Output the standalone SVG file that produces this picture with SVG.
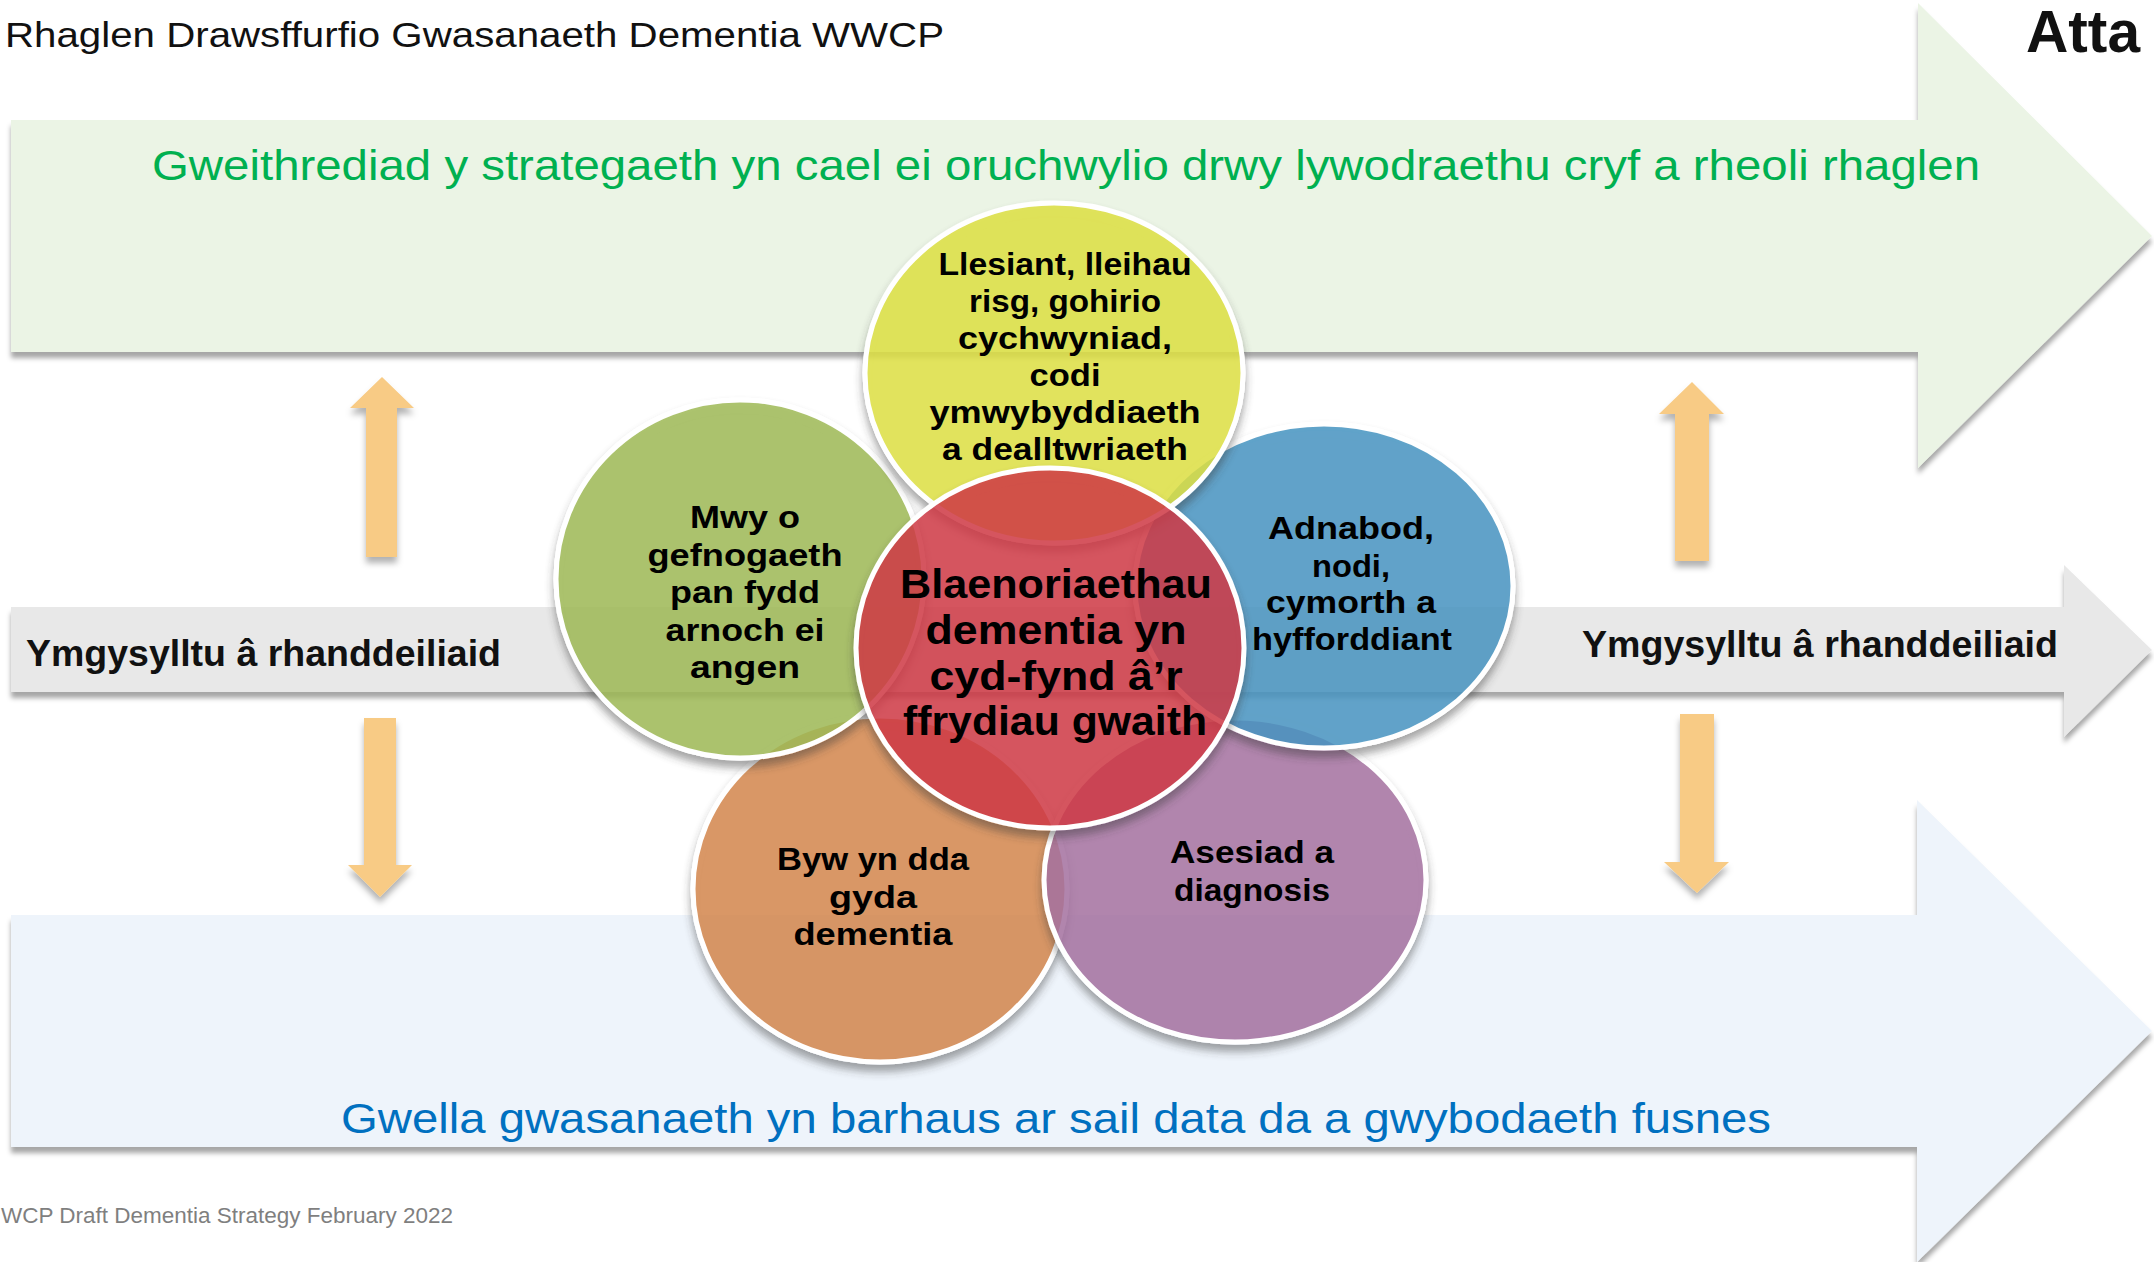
<svg xmlns="http://www.w3.org/2000/svg" width="2154" height="1262" viewBox="0 0 2154 1262">
<style>
.hdr{font-family:"Liberation Sans",Arial,sans-serif;font-size:35px;fill:#111}
.band{font-family:"Liberation Sans",Arial,sans-serif;font-size:43px}
.side{font-family:"Liberation Sans",Arial,sans-serif;font-size:36px;font-weight:bold;fill:#111}
.ct{font-family:"Liberation Sans",Arial,sans-serif;font-size:32px;font-weight:bold;fill:#000;text-anchor:middle}
.cr{font-family:"Liberation Sans",Arial,sans-serif;font-size:40px;font-weight:bold;fill:#000;text-anchor:middle}
.circ{stroke:#fff;stroke-width:5;fill-opacity:0.85;filter:url(#csh)}
.oarr{fill:#F8CB85;filter:url(#osh)}
</style>
<defs>
<filter id="ash" x="-5%" y="-10%" width="110%" height="130%">
<feDropShadow dx="0" dy="6" stdDeviation="2.5" flood-color="#000" flood-opacity="0.35"/>
</filter>
<filter id="osh" x="-40%" y="-10%" width="180%" height="125%">
<feDropShadow dx="0" dy="6" stdDeviation="3" flood-color="#000" flood-opacity="0.3"/>
</filter>
<filter id="csh" x="-10%" y="-10%" width="120%" height="125%">
<feGaussianBlur in="SourceAlpha" stdDeviation="4" result="b"/>
<feOffset in="b" dx="0" dy="7" result="o"/>
<feFlood flood-color="#3a3a3a" flood-opacity="0.5" result="c"/>
<feComposite in="c" in2="o" operator="in" result="s"/>
<feComposite in="s" in2="SourceAlpha" operator="out" result="s2"/>
<feMerge><feMergeNode in="s2"/><feMergeNode in="SourceGraphic"/></feMerge>
</filter>
</defs>
<rect width="2154" height="1262" fill="#fff"/>

<g id="title">
<text class="hdr" x="5" y="47" textLength="939" lengthAdjust="spacingAndGlyphs">Rhaglen Drawsffurfio Gwasanaeth Dementia WWCP</text>
<text x="2026" y="52" font-family="'Liberation Sans',Arial,sans-serif" font-size="60" font-weight="bold" fill="#111" textLength="114" lengthAdjust="spacingAndGlyphs">Atta</text>
</g>

<g id="band-governance">
<polygon points="11,120 1918,120 1918,3 2152,236 1918,468 1918,352 11,352" fill="#EBF4E5" filter="url(#ash)"/>
<text class="band" x="152" y="180" fill="#00B050" textLength="1828" lengthAdjust="spacingAndGlyphs">Gweithrediad y strategaeth yn cael ei oruchwylio drwy lywodraethu cryf a rheoli rhaglen</text>
</g>

<g id="band-stakeholders">
<polygon points="11,607 2064,607 2064,565 2152,650 2064,737 2064,692 11,692" fill="#E8E8E8" filter="url(#ash)"/>
<text class="side" x="26" y="666" textLength="475" lengthAdjust="spacingAndGlyphs">Ymgysylltu â rhanddeiliaid</text>
<text class="side" x="1582" y="657" textLength="476" lengthAdjust="spacingAndGlyphs">Ymgysylltu â rhanddeiliaid</text>
</g>

<g id="band-improvement">
<polygon points="11,915 1917,915 1917,800 2152,1031 1917,1262 1917,1147 11,1147" fill="#EEF4FB" filter="url(#ash)"/>
<text class="band" x="341" y="1133" fill="#0070C0" textLength="1430" lengthAdjust="spacingAndGlyphs">Gwella gwasanaeth yn barhaus ar sail data da a gwybodaeth fusnes</text>
</g>

<g id="connectors">
<path class="oarr" d="M366,557 L366,408 L350,408 L382,377 L414,408 L397,408 L397,557 Z"/>
<path class="oarr" d="M1675,561 L1675,414 L1659,414 L1692,382 L1724,414 L1709,414 L1709,561 Z"/>
<path class="oarr" d="M364,718 L396,718 L396,865 L412,865 L380,897 L348,865 L364,865 Z"/>
<path class="oarr" d="M1680,714 L1714,714 L1714,862 L1729,862 L1697,893 L1664,862 L1680,862 Z"/>
</g>

<g id="node-byw">
<ellipse class="circ" cx="880" cy="889" rx="187" ry="173" fill="#D4864B"/>
<text class="ct" x="873" y="870" textLength="192" lengthAdjust="spacingAndGlyphs">Byw yn dda</text>
<text class="ct" x="873" y="908" textLength="88" lengthAdjust="spacingAndGlyphs">gyda</text>
<text class="ct" x="873" y="945" textLength="159" lengthAdjust="spacingAndGlyphs">dementia</text>
</g>

<g id="node-asesiad">
<ellipse class="circ" cx="1235" cy="880" rx="191" ry="162" fill="#A571A0"/>
<text class="ct" x="1252" y="863" textLength="164" lengthAdjust="spacingAndGlyphs">Asesiad a</text>
<text class="ct" x="1252" y="901" textLength="156" lengthAdjust="spacingAndGlyphs">diagnosis</text>
</g>

<g id="node-cefnogaeth">
<ellipse class="circ" cx="740" cy="579" rx="184" ry="179" fill="#9EB955"/>
<text class="ct" x="745" y="528" textLength="110" lengthAdjust="spacingAndGlyphs">Mwy o</text>
<text class="ct" x="745" y="566" textLength="195" lengthAdjust="spacingAndGlyphs">gefnogaeth</text>
<text class="ct" x="745" y="603" textLength="150" lengthAdjust="spacingAndGlyphs">pan fydd</text>
<text class="ct" x="745" y="641" textLength="159" lengthAdjust="spacingAndGlyphs">arnoch ei</text>
<text class="ct" x="745" y="678" textLength="110" lengthAdjust="spacingAndGlyphs">angen</text>
</g>

<g id="node-adnabod">
<ellipse class="circ" cx="1324" cy="586" rx="189" ry="162" fill="#4794C1"/>
<text class="ct" x="1351" y="539" textLength="166" lengthAdjust="spacingAndGlyphs">Adnabod,</text>
<text class="ct" x="1351" y="577" textLength="78" lengthAdjust="spacingAndGlyphs">nodi,</text>
<text class="ct" x="1351" y="613" textLength="170" lengthAdjust="spacingAndGlyphs">cymorth a</text>
<text class="ct" x="1352" y="650" textLength="200" lengthAdjust="spacingAndGlyphs">hyfforddiant</text>
</g>

<g id="node-llesiant">
<ellipse class="circ" cx="1054" cy="373" rx="189" ry="170" fill="#DDDF43"/>
<text class="ct" x="1065" y="275" textLength="253" lengthAdjust="spacingAndGlyphs">Llesiant, lleihau</text>
<text class="ct" x="1065" y="312" textLength="192" lengthAdjust="spacingAndGlyphs">risg, gohirio</text>
<text class="ct" x="1065" y="349" textLength="214" lengthAdjust="spacingAndGlyphs">cychwyniad,</text>
<text class="ct" x="1065" y="386" textLength="71" lengthAdjust="spacingAndGlyphs">codi</text>
<text class="ct" x="1065" y="423" textLength="271" lengthAdjust="spacingAndGlyphs">ymwybyddiaeth</text>
<text class="ct" x="1065" y="460" textLength="246" lengthAdjust="spacingAndGlyphs">a dealltwriaeth</text>
</g>

<g id="node-blaenoriaethau">
<ellipse class="circ" cx="1050" cy="648" rx="194" ry="180" fill="#CF3A45" fill-opacity="0.8"/>
<text class="cr" x="1056" y="598" textLength="312" lengthAdjust="spacingAndGlyphs">Blaenoriaethau</text>
<text class="cr" x="1056" y="644" textLength="261" lengthAdjust="spacingAndGlyphs">dementia yn</text>
<text class="cr" x="1056" y="690" textLength="253" lengthAdjust="spacingAndGlyphs">cyd-fynd â’r</text>
<text class="cr" x="1055" y="735" textLength="304" lengthAdjust="spacingAndGlyphs">ffrydiau gwaith</text>
</g>

<g id="footer">
<text x="1" y="1223" font-family="'Liberation Sans',Arial,sans-serif" font-size="22" fill="#7F7F7F" textLength="452" lengthAdjust="spacingAndGlyphs">WCP Draft Dementia Strategy February 2022</text>
</g>
</svg>
